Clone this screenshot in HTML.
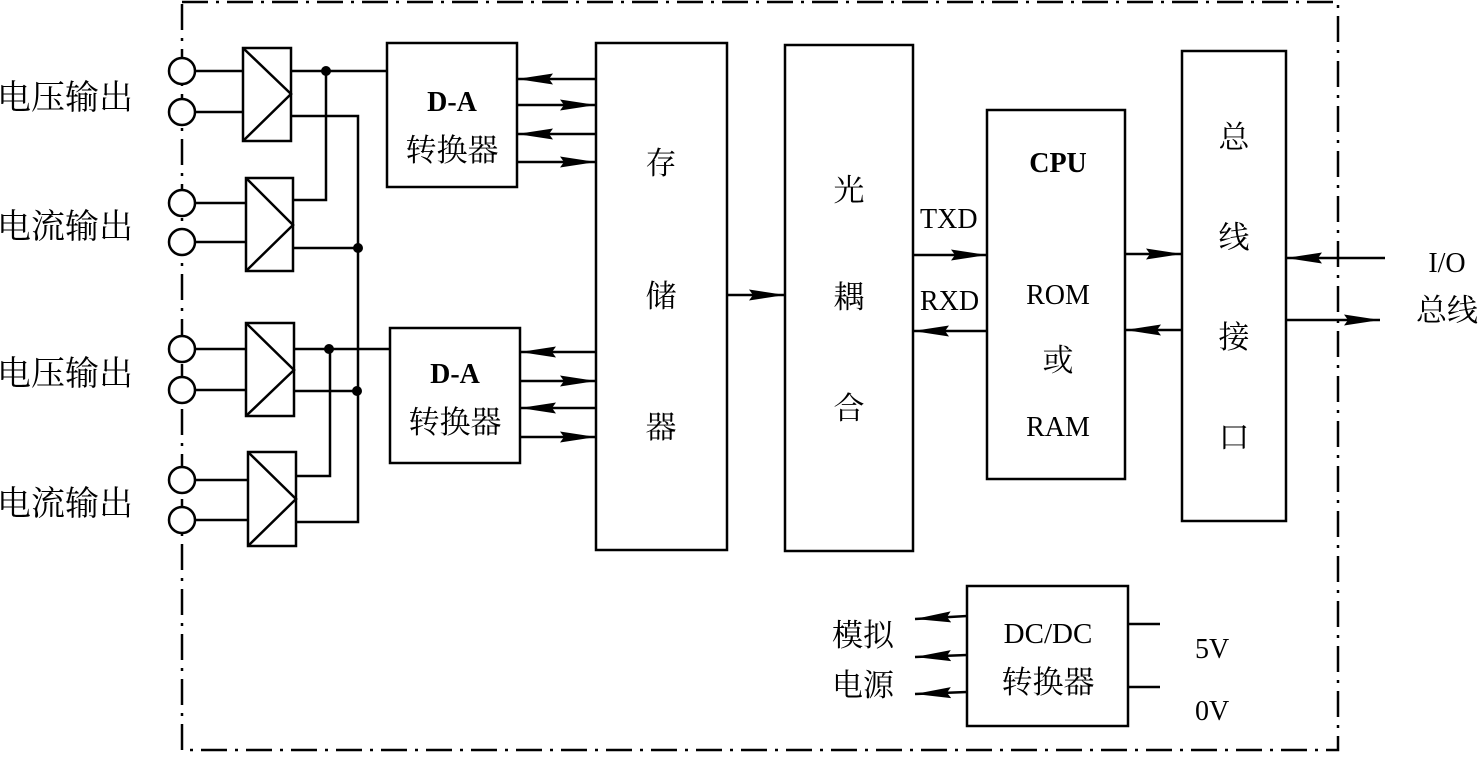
<!DOCTYPE html>
<html><head><meta charset="utf-8"><style>
html,body{margin:0;padding:0;background:#fff;}
svg text{font-family:"Liberation Serif","Noto Serif CJK SC",serif;fill:#000;}
</style></head><body>
<svg width="1479" height="754" viewBox="0 0 1479 754" xmlns="http://www.w3.org/2000/svg">
<defs>
<marker id="b" markerWidth="36" markerHeight="14" refX="36" refY="7" orient="auto" markerUnits="userSpaceOnUse"><path d="M0,1.5 L36,7 L0,12.5 L4,7 Z" fill="#000"/></marker></defs>
<g fill="none" stroke="#000" stroke-width="2.5">
<path d="M182,2 H1338 V750 H182 Z" stroke-dasharray="26,8,3,8"/>
</g>
<g fill="#fff" stroke="#000" stroke-width="2.5">
<circle cx="182" cy="71" r="13"/><circle cx="182" cy="112" r="13"/>
<circle cx="182" cy="203" r="13"/><circle cx="182" cy="242" r="13"/>
<circle cx="182" cy="349" r="13"/><circle cx="182" cy="390" r="13"/>
<circle cx="182" cy="480" r="13"/><circle cx="182" cy="520" r="13"/>
</g>
<g fill="none" stroke="#000" stroke-width="2.5">
<path d="M195,71H243M195,112H243M195,203H246M195,242H246M195,349H246M195,390H246M195,480H248M195,520H248"/>
<rect x="243" y="48" width="48" height="93"/><path d="M243,48L291,94L243,141"/>
<rect x="246" y="178" width="47" height="93"/><path d="M246,178L293,225L246,271"/>
<rect x="246" y="323" width="48" height="93"/><path d="M246,323L294,370L246,416"/>
<rect x="248" y="452" width="48" height="94"/><path d="M248,452L296,499L248,546"/>
<path d="M291,71H387M291,116H358V522H296M293,200H326V71M293,248H358"/>
<path d="M294,349H390M294,391H358M296,476H330V349"/>
<rect x="387" y="43" width="130" height="144"/>
<rect x="390" y="328" width="130" height="135"/>
<rect x="596" y="43" width="131" height="507"/>
<rect x="785" y="45" width="128" height="506"/>
<rect x="987" y="110" width="138" height="369"/>
<rect x="1182" y="51" width="104" height="470"/>
<rect x="967" y="586" width="161" height="140"/>
<path d="M1128,624H1160M1128,687H1160"/>
</g>
<g fill="#000"><circle cx="326" cy="71" r="5"/><circle cx="358" cy="248" r="5"/><circle cx="329" cy="349" r="5"/><circle cx="357" cy="391" r="5"/></g>
<g stroke="#000" stroke-width="2.5" marker-end="url(#b)">
<line x1="596" y1="79" x2="517" y2="79"/><line x1="517" y1="105" x2="596" y2="105"/>
<line x1="596" y1="134" x2="517" y2="134"/><line x1="517" y1="162" x2="596" y2="162"/>
<line x1="596" y1="352" x2="520" y2="352"/><line x1="520" y1="381" x2="596" y2="381"/>
<line x1="596" y1="408" x2="520" y2="408"/><line x1="520" y1="437" x2="596" y2="437"/>
<line x1="727" y1="295" x2="785" y2="295"/>
<line x1="913" y1="255" x2="987" y2="255"/><line x1="987" y1="331" x2="913" y2="331"/>
<line x1="1125" y1="254" x2="1182" y2="254"/><line x1="1182" y1="330" x2="1125" y2="330"/>
<line x1="1385" y1="258" x2="1286" y2="258"/><line x1="1286" y1="320" x2="1380" y2="320"/>
<line x1="967" y1="616" x2="915" y2="619"/><line x1="967" y1="655" x2="915" y2="657"/><line x1="967" y1="692" x2="915" y2="694"/>
</g>
<g font-size="34">
<text x="-3" y="109">电压输出</text><text x="-3" y="238">电流输出</text>
<text x="-3" y="385">电压输出</text><text x="-3" y="515">电流输出</text>
</g>
<g font-size="31" text-anchor="middle">
<text x="452" y="111" font-weight="bold" font-size="28">D-A</text><text x="452" y="161">转换器</text>
<text x="455" y="383" font-weight="bold" font-size="28">D-A</text><text x="455" y="433">转换器</text>
<text x="661" y="174">存</text><text x="661" y="307">储</text><text x="661" y="438">器</text>
<text x="849" y="201">光</text><text x="849" y="308">耦</text><text x="849" y="419">合</text>
<text x="1058" y="172" font-size="28" font-weight="bold">CPU</text><text x="1058" y="304" font-size="28">ROM</text>
<text x="1058" y="371">或</text><text x="1058" y="436" font-size="28">RAM</text>
<text x="1234" y="148">总</text><text x="1234" y="248">线</text><text x="1234" y="348">接</text><text x="1234" y="448">口</text>
<text x="1048" y="643" font-size="29">DC/DC</text><text x="1048" y="693">转换器</text>
</g>
<g font-size="28">
<text x="920" y="228">TXD</text><text x="920" y="310">RXD</text>
<text x="1447" y="272" text-anchor="middle">I/O</text>
<text x="1447" y="321" text-anchor="middle" font-size="31">总线</text>
<text x="832" y="646" font-size="31">模拟</text><text x="832" y="696" font-size="31">电源</text>
<text x="1195" y="658">5V</text><text x="1195" y="720">0V</text>
</g>
</svg>
</body></html>
